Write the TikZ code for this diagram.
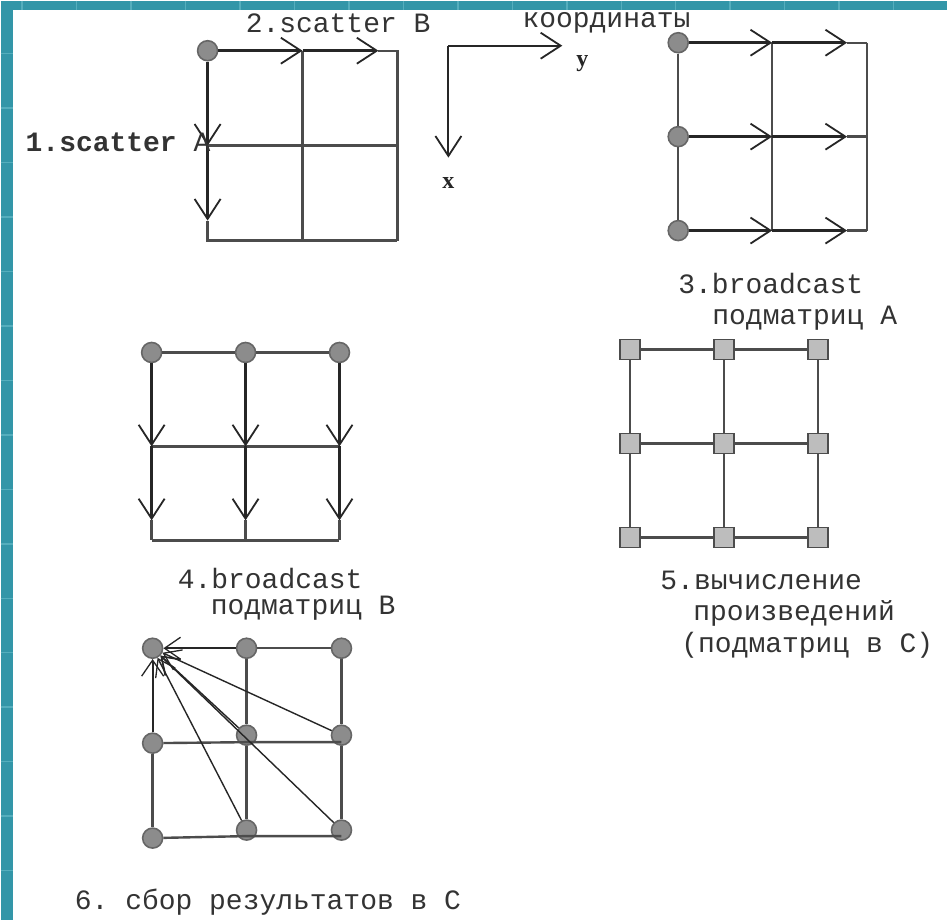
\documentclass[tikz,border=0pt]{standalone}
\usepackage{fontspec}
\setmonofont{Liberation Mono}
\newfontfamily\axisfont{Liberation Serif}
\usepackage{tikz}
\usetikzlibrary{arrows.meta}

\definecolor{slideteal}{HTML}{3396A8}
\definecolor{slidetick}{HTML}{55AEBD}
\definecolor{penfill}{HTML}{8C8C8C}
\definecolor{sqfill}{HTML}{BDBDBD}

\begin{document}
\begin{tikzpicture}[
    x=1pt, y=-1pt,
    gridline/.style={line width=2.4pt, draw=black!70},
    arr/.style={line width=2.8pt, draw=black!85,
                -{Straight Barb[length=20pt,width=26pt,line width=1.8pt]}},
    thinarr/.style={line width=1.4pt, draw=black!85,
                -{Straight Barb[length=16pt,width=22pt,line width=1.3pt]}},
    pe/.style={circle, draw=black!60, fill=penfill, line width=1.6pt,
               minimum size=20pt, inner sep=0pt},
    sq/.style={rectangle, draw=black!70, fill=sqfill, line width=1.6pt,
               minimum size=20pt, inner sep=0pt},
    lbl/.style={font=\ttfamily\fontsize{28}{30}\selectfont, text=black!80,
                inner sep=0pt, anchor=west},
    axlbl/.style={font=\axisfont\bfseries\fontsize{24}{26}\selectfont,
                  text=black!85, inner sep=0pt}
]
% slide background
\fill[slideteal] (0,0) rectangle (947,920);
\foreach \tx in {21.5,76,...,947} \draw[slidetick, line width=1.5pt] (\tx,0) -- (\tx,9);
\foreach \ty in {53,107.5,...,920} \draw[slidetick, line width=1.5pt] (0,\ty) -- (12,\ty);
\fill[white] (12,9) rectangle (947,920);

% 1-2: scatter A, scatter B
\node[pe] (a11) at (207,50) {};
\coordinate (a12) at (302,50);  \coordinate (a13) at (397,50);
\coordinate (a21) at (207,145); \coordinate (a22) at (302,145); \coordinate (a23) at (397,145);
\coordinate (a31) at (207,240); \coordinate (a32) at (302,240); \coordinate (a33) at (397,240);
\coordinate (at1) at (378,50);  \coordinate (at2) at (207,220);
\draw[gridline] (a12) -- (a32);
\draw[gridline] (at1) -- (a13) -- (a33);
\draw[gridline] (a21) -- (a23);
\draw[gridline] (at2) -- (a31) -- (a33);
\draw[arr] (a11) -- (a12);
\draw[arr] (a12) -- (at1);
\draw[arr] (a11) -- (a21);
\draw[arr] (a21) -- (at2);
\node[lbl] (lscb) at (245,23) {2.scatter B};
\node[lbl, anchor=east] (lsca) at (210,142) {{\bfseries 1.scatter} A};

% coordinate axes
\coordinate (ax0) at (448,45);
\coordinate (axy) at (562,45);
\coordinate (axx) at (448,157);
\draw[arr, line width=2pt] (ax0) -- (axy);
\draw[arr, line width=2pt] (ax0) -- (axx);
\node[lbl] (lcoord) at (522,22) {координаты};
\node[axlbl] (ly) at (582,63) {y};
\node[axlbl] (lx) at (448,182) {x};

% 3: broadcast A
\foreach \r/\yy in {1/42,2/136,3/230} {
  \node[pe] (b\r) at (678,\yy) {};
  \coordinate (c\r) at (772,\yy);
  \coordinate (t\r) at (847,\yy);
  \coordinate (d\r) at (867,\yy);
}
\draw[gridline] (b1) -- (b2) -- (b3);
\draw[gridline] (c1) -- (c3);
\draw[gridline] (d1) -- (d3);
\foreach \r in {1,2,3} {
  \draw[arr] (b\r) -- (c\r);
  \draw[arr] (c\r) -- (t\r);
  \draw[gridline] (t\r) -- (d\r);
}
\node[lbl] (lbca1) at (678,283) {3.broadcast};
\node[lbl] (lbca2) at (712,318) {подматриц A};

% 4: broadcast B
\foreach \c/\xx in {1/151,2/245,3/339} {
  \node[pe] (g\c) at (\xx,352) {};
  \coordinate (h\c) at (\xx,446);
  \coordinate (s\c) at (\xx,520);
  \coordinate (k\c) at (\xx,540);
}
\draw[gridline] (g1) -- (g2) -- (g3);
\draw[gridline] (h1) -- (h3);
\draw[gridline] (k1) -- (k3);
\foreach \c in {1,2,3} {
  \draw[arr] (g\c) -- (h\c);
  \draw[arr] (h\c) -- (s\c);
  \draw[gridline] (s\c) -- (k\c);
}
\node[lbl] (lbcb1) at (177,578) {4.broadcast};
\node[lbl] (lbcb2) at (210,608) {подматриц B};

% 5: local products
\foreach \r/\yy in {1/349,2/443,3/537}
  \foreach \c/\xx in {1/630,2/724,3/818}
    \node[sq] (e\r\c) at (\xx,\yy) {};
\foreach \r in {1,2,3} \draw[gridline] (e\r1) -- (e\r2) -- (e\r3);
\foreach \c in {1,2,3} \draw[gridline] (e1\c) -- (e2\c) -- (e3\c);
\node[lbl] (lcmp1) at (660,580) {5.вычисление};
\node[lbl] (lcmp2) at (693,613) {произведений};
\node[lbl] (lcmp3) at (681,645) {(подматриц в C)};

% 6: gather to C
\node[pe] (f11) at (152,648) {};
\node[pe] (f12) at (246,648) {};
\node[pe] (f13) at (341,648) {};
\node[pe] (f21) at (152,743) {};
\node[pe] (f22) at (246,735) {};
\node[pe] (f23) at (341,735) {};
\node[pe] (f31) at (152,838) {};
\node[pe] (f32) at (246,830) {};
\node[pe] (f33) at (341,830) {};
\coordinate (m2) at (246,742); \coordinate (m3) at (341,742);
\coordinate (n2) at (246,836); \coordinate (n3) at (341,836);
\draw[gridline] (f12) -- (f13) -- (f23) -- (f33);
\draw[gridline] (f12) -- (f22) -- (f32);
\draw[gridline] (f21) -- (f31);
\draw[gridline] (f21) -- (m2) -- (m3);
\draw[gridline] (f31) -- (n2) -- (n3);
\draw[thinarr, line width=2pt] (f12) -- (f11);
\draw[thinarr, line width=2pt] (f21) -- (f11);
\draw[thinarr] (f22) -- (f11);
\draw[thinarr] (f23) -- (f11);
\draw[thinarr] (f32) -- (f11);
\draw[thinarr] (f33) -- (f11);
\node[lbl] (lgat) at (74,902) {6. сбор результатов в C};
\end{tikzpicture}
\end{document}
